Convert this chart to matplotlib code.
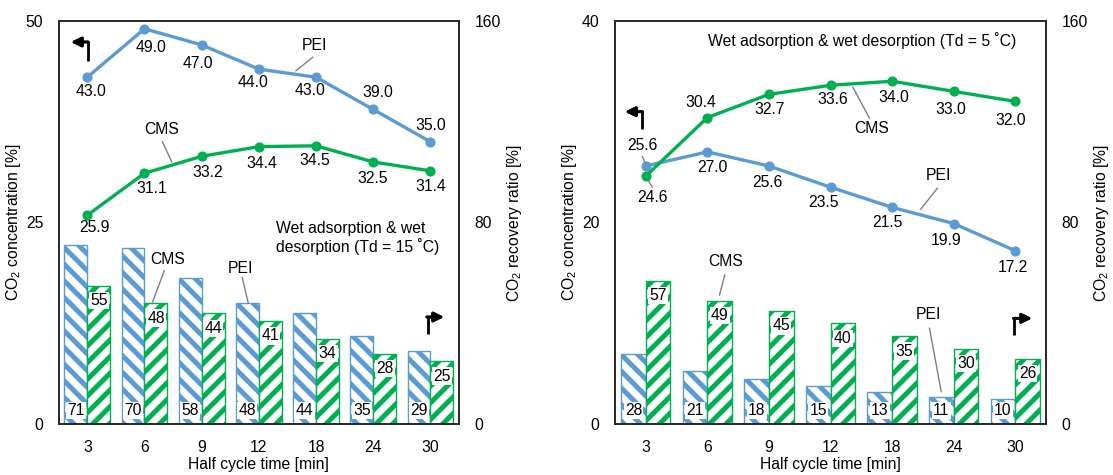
import matplotlib
matplotlib.use("Agg")
import matplotlib.pyplot as plt
from matplotlib.lines import Line2D

plt.rcParams['font.family'] = ['Liberation Sans', 'DejaVu Sans']
plt.rcParams['mathtext.fontset'] = 'custom'
plt.rcParams['mathtext.rm'] = 'Liberation Sans'
plt.rcParams['mathtext.it'] = 'Liberation Sans'
plt.rcParams['font.size'] = 11.3
plt.rcParams['hatch.linewidth'] = 3.6

# ---------------- data ----------------
categories = ['3', '6', '9', '12', '18', '24', '30']

# Left panel (Td = 15 C)
L_pei_conc = [43.0, 49.0, 47.0, 44.0, 43.0, 39.0, 35.0]
L_cms_conc = [25.9, 31.1, 33.2, 34.4, 34.5, 32.5, 31.4]
L_pei_rec = [71, 70, 58, 48, 44, 35, 29]
L_cms_rec = [55, 48, 44, 41, 34, 28, 25]

# Right panel (Td = 5 C)
R_pei_conc = [25.6, 27.0, 25.6, 23.5, 21.5, 19.9, 17.2]
R_cms_conc = [24.6, 30.4, 32.7, 33.6, 34.0, 33.0, 32.0]
R_pei_rec = [28, 21, 18, 15, 13, 11, 10]
R_cms_rec = [57, 49, 45, 40, 35, 30, 26]

# ---------------- style ----------------
BLUE = '#5B9BD5'
GREEN = '#00B050'
GREY = '#7F7F7F'
W, H = 1113, 475

# label offsets in pixels (dx, dy up)
L_pei_off = [(3.5, -14), (6.7, -19), (-4, -19), (-6, -13), (-6, -13), (4.7, 17), (0, 16.7)]
L_cms_off = [(7, -12.7), (6.7, -15), (5.7, -16), (3.3, -16.7), (-1.3, -15), (-1, -17), (0, -16)]
R_cms_off = [(7, -21.7), (-7, 15), (0.7, -15), (1.8, -14.7), (1.8, -16), (-3.2, -18.3), (-4.5, -19)]
R_pei_off = [(-3.5, 20), (5.3, -15.7), (-1, -17), (-7.4, -15), (-4.5, -15.3), (-7.7, -16.7), (-2, -17)]

fig = plt.figure(figsize=(W / 100, H / 100), dpi=100)


def fxy(px, py):
    return (px / W, 1 - py / H)


def leader(p0, p1):
    fig.add_artist(Line2D([p0[0] / W, p1[0] / W], [1 - p0[1] / H, 1 - p1[1] / H],
                          transform=fig.transFigure, color=GREY, lw=1.0))


def ftext(px, py, s, **kw):
    fig.text(px / W, 1 - py / H, s, ha=kw.pop('ha', 'center'), va=kw.pop('va', 'center'), **kw)


def bend_arrow(corner, vend, hend):
    fig.add_artist(Line2D([corner[0] / W, vend[0] / W], [1 - (corner[1] - 1) / H, 1 - vend[1] / H],
                          transform=fig.transFigure, color='black', lw=2.0,
                          solid_capstyle='butt'))
    sgn = 1 if hend[0] > corner[0] else -1
    fig.add_artist(plt.annotate('', xy=fxy(*hend), xycoords='figure fraction',
                                xytext=fxy(corner[0] - sgn * 0.7, corner[1]),
                                textcoords='figure fraction',
                                arrowprops=dict(arrowstyle='-|>,head_length=0.65,head_width=0.32',
                                                color='black', lw=2.0, shrinkA=0, shrinkB=0,
                                                mutation_scale=9)))


def panel(rect, pei_conc, cms_conc, pei_rec, cms_rec, ymax_left, yticks_left,
          pei_off, cms_off):
    ax = fig.add_axes(rect)
    ax2 = ax.twinx()
    x = list(range(len(categories)))
    ax2.bar([i - 0.4 for i in x], pei_rec, width=0.4, align='edge',
            facecolor='white', edgecolor=BLUE, hatch='\\\\', lw=1.0, zorder=1)
    ax2.bar(x, cms_rec, width=0.4, align='edge',
            facecolor='white', edgecolor=GREEN, hatch='//', lw=1.0, zorder=1)
    for i, v in enumerate(pei_rec):
        ax2.annotate(f'{v}', xy=(i - 0.2, 0), xytext=(0, 14), textcoords='offset pixels',
                     ha='center', va='center',
                     bbox=dict(boxstyle='square,pad=0.08', fc='white', ec='none'), zorder=3)
    for i, v in enumerate(cms_rec):
        ax2.annotate(f'{v}', xy=(i + 0.2, v), xytext=(0, -15), textcoords='offset pixels',
                     ha='center', va='center',
                     bbox=dict(boxstyle='square,pad=0.08', fc='white', ec='none'), zorder=3)
    ax2.set_ylim(0, 160)
    ax2.set_yticks([0, 80, 160])
    ax2.set_ylabel('CO$_2$ recovery ratio [%]', labelpad=3)
    ax2.tick_params(axis='y', length=0, pad=11)

    ax.set_zorder(ax2.get_zorder() + 1)
    ax.patch.set_visible(False)
    ax.plot(x, pei_conc, color=BLUE, lw=2.4, marker='o', ms=6.3, zorder=3)
    ax.plot(x, cms_conc, color=GREEN, lw=2.4, marker='o', ms=6.3, zorder=3)
    for i, v in enumerate(pei_conc):
        ax.annotate(f'{v:.1f}', xy=(i, v), xytext=pei_off[i], textcoords='offset pixels',
                    ha='center', va='center')
    for i, v in enumerate(cms_conc):
        ax.annotate(f'{v:.1f}', xy=(i, v), xytext=cms_off[i], textcoords='offset pixels',
                    ha='center', va='center')
    ax.set_ylim(0, ymax_left)
    ax.set_yticks(yticks_left)
    ax.set_xlim(-0.5, len(categories) - 0.5)
    ax.set_xticks(x)
    ax.set_xticklabels(categories)
    ax.tick_params(axis='both', length=0, pad=11)
    ax.set_xlabel('Half cycle time [min]', labelpad=2)
    ax.set_ylabel('CO$_2$ concentration [%]', labelpad=2)
    for a in (ax, ax2):
        for s in a.spines.values():
            s.set_color('#262626')
            s.set_linewidth(1.2)
    return ax, ax2


panel([58.7 / W, 1 - 424.3 / H, (459 - 58.7) / W, (424.3 - 20.7) / H],
      L_pei_conc, L_cms_conc, L_pei_rec, L_cms_rec, 50, [0, 25, 50],
      L_pei_off, L_cms_off)
panel([615 / W, 1 - 424.3 / H, (1046 - 615) / W, (424.3 - 20.7) / H],
      R_pei_conc, R_cms_conc, R_pei_rec, R_cms_rec, 40, [0, 20, 40],
      R_pei_off, R_cms_off)

# ---- annotations, left panel ----
ftext(314, 45.7, 'PEI')
leader((312.7, 57.3), (296, 70.7))
ftext(161.7, 129.3, 'CMS')
leader((162.3, 141.7), (171.7, 161.7))
ftext(167.7, 260, 'CMS')
leader((164.3, 270.7), (152.7, 301.7))
ftext(240.7, 268.3, 'PEI')
leader((242.3, 277.7), (248.3, 303.3))
ftext(276, 238, 'Wet adsorption & wet\ndesorption (Td = 15 \u02daC)', ha='left',
      linespacing=1.2)
bend_arrow((87.5, 42), (87.5, 61), (71, 42))
bend_arrow((427.5, 317), (427.5, 334), (444, 317))

# ---- annotations, right panel ----
ftext(862.5, 40.7, 'Wet adsorption & wet desorption (Td = 5 \u02daC)')
ftext(871.3, 128.3, 'CMS')
leader((869.5, 118.3), (852.9, 87.3))
ftext(938.3, 175.7, 'PEI')
leader((937.3, 188.3), (920.7, 209.3))
ftext(725.8, 261, 'CMS')
leader((724.8, 275), (719.5, 295))
ftext(928.8, 314.3, 'PEI')
leader((929.5, 328.3), (941.2, 391.7))
leader((642.3, 156.7), (645.6, 163.3))
leader((648.8, 181.5), (652.3, 187))
bend_arrow((641.8, 111.7), (641.8, 129), (625, 111.7))
bend_arrow((1014.2, 318.3), (1014.2, 335), (1032, 318.3))

fig.savefig('out.png', dpi=100)
